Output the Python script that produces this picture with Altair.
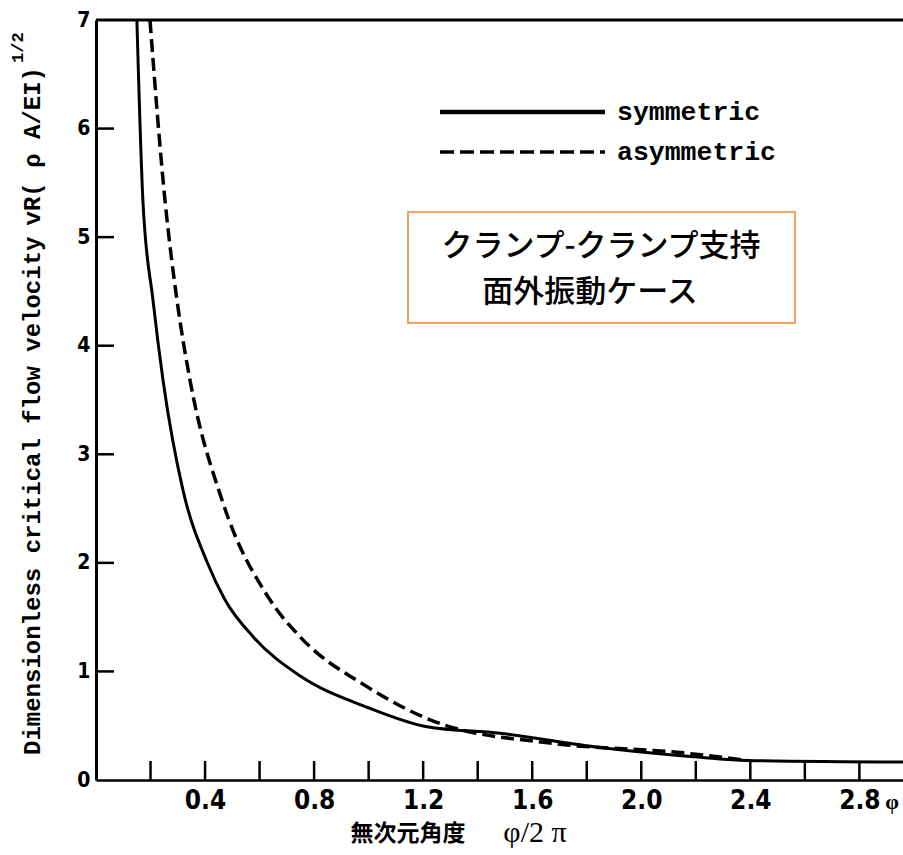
import altair as alt
import pandas as pd

# ---- data ----
sym_x = [0.150, 0.172, 0.209, 0.246, 0.319, 0.407, 0.473, 0.576, 0.748, 0.994, 1.214, 1.482, 1.849, 2.216, 2.39, 2.96]
sym_y = [7.0, 5.34, 4.42, 3.68, 2.67, 2.01, 1.66, 1.32, 0.96, 0.67, 0.49, 0.43, 0.30, 0.21, 0.18, 0.165]
asym_x = [0.198, 0.253, 0.297, 0.345, 0.462, 0.638, 0.748, 0.994, 1.262, 1.665, 2.153, 2.39]
asym_y = [7.0, 5.34, 4.42, 3.68, 2.58, 1.66, 1.32, 0.86, 0.52, 0.34, 0.25, 0.18]
series_names = ["symmetric", "asymmetric"]

x_tick_vals = [0.2, 0.4, 0.6, 0.8, 1.0, 1.2, 1.4, 1.6, 1.8, 2.0, 2.2, 2.4, 2.6, 2.8]
x_label_vals = [0.4, 0.8, 1.2, 1.6, 2.0, 2.4, 2.8]
y_tick_vals = [1, 2, 3, 4, 5, 6]
y_label_vals = [0, 1, 2, 3, 4, 5, 6, 7]

box_lines = ["クランプ-クランプ支持", "面外振動ケース"]
x_title_jp = "無次元角度"
x_title_sym = "φ/2 π"
y_title_main = "Dimensionless critical flow velocity"
y_title_tail = "vR( ρ A/EI)"
y_title_sup = "1/2"

W, H = 807, 760
XMAX = 2.96
xs = alt.Scale(domain=[0, XMAX], nice=False, zero=False)
ys = alt.Scale(domain=[0, 7], nice=False, zero=False)

NUM_FONT = "Liberation Sans Narrow, DejaVu Sans Condensed, Arial Narrow, sans-serif"
MONO = "Liberation Mono, DejaVu Sans Mono, monospace"
CJK = "Noto Sans CJK JP"

df_sym = pd.DataFrame({"x": sym_x, "y": sym_y})
df_asym = pd.DataFrame({"x": asym_x, "y": asym_y})
one = pd.DataFrame({"a": [0]})

base_x = alt.X("x:Q", scale=xs,
               axis=alt.Axis(values=x_label_vals, format=".1f", title="", grid=False,
                             ticks=False, tickSize=0, domainColor="black", domainWidth=2.5,
                             labelFont=NUM_FONT, labelFontWeight="bold", labelFontSize=26,
                             labelColor="black", labelPadding=7, labelFlush=False))
base_y = alt.Y("y:Q", scale=ys,
               axis=alt.Axis(values=y_label_vals, format="d", title="", grid=False,
                             ticks=False, tickSize=0, domainColor="black", domainWidth=3,
                             labelFont=NUM_FONT, labelFontWeight="bold", labelFontSize=21,
                             labelColor="black", labelPadding=6))

sym_line = alt.Chart(df_sym).mark_line(color="black", strokeWidth=3, interpolate="monotone").encode(
    x=base_x, y=base_y)
asym_line = alt.Chart(df_asym).mark_line(color="black", strokeWidth=3.5, strokeDash=[13, 6],
                                         interpolate="monotone").encode(
    x=alt.X("x:Q", scale=xs), y=alt.Y("y:Q", scale=ys))

xticks = alt.Chart(pd.DataFrame({"x": x_tick_vals})).mark_rule(color="black", strokeWidth=2.5).encode(
    x=alt.X("x:Q", scale=xs), y=alt.value(H), y2=alt.value(H - 19))
yticks = alt.Chart(pd.DataFrame({"y": y_tick_vals})).mark_rule(color="black", strokeWidth=2.5).encode(
    y=alt.Y("y:Q", scale=ys), x=alt.value(0), x2=alt.value(18))
topline = alt.Chart(pd.DataFrame({"y": [7]})).mark_rule(color="black", strokeWidth=3).encode(
    y=alt.Y("y:Q", scale=ys), x=alt.value(0), x2=alt.value(W))

# legend
leg_solid = alt.Chart(one).mark_rule(color="black", strokeWidth=4.5).encode(
    x=alt.value(344), x2=alt.value(509), y=alt.value(92))
leg_dash = alt.Chart(one).mark_rule(color="black", strokeWidth=3.5, strokeDash=[14, 6]).encode(
    x=alt.value(344), x2=alt.value(509), y=alt.value(132))
leg_t1 = alt.Chart(one).mark_text(font=MONO, fontWeight="bold", fontSize=26.5, align="left",
                                  baseline="alphabetic", color="black", text=series_names[0]).encode(
    x=alt.value(521), y=alt.value(100))
leg_t2 = alt.Chart(one).mark_text(font=MONO, fontWeight="bold", fontSize=26.5, align="left",
                                  baseline="alphabetic", color="black", text=series_names[1]).encode(
    x=alt.value(521), y=alt.value(140))

# orange box
box = alt.Chart(one).mark_rect(fill="white", stroke="#f0883c", strokeWidth=1.6).encode(
    x=alt.value(312), x2=alt.value(699), y=alt.value(192), y2=alt.value(303))
box_t1 = alt.Chart(one).mark_text(font=CJK, fontSize=31, fontWeight=500, align="center", baseline="middle",
                                  color="black", text=box_lines[0]).encode(
    x=alt.value(505), y=alt.value(227))
box_t2 = alt.Chart(one).mark_text(font=CJK, fontSize=31, fontWeight=500, align="center", baseline="middle",
                                  color="black", text=box_lines[1]).encode(
    x=alt.value(494), y=alt.value(273))

# x-axis title
xt1 = alt.Chart(one).mark_text(font=CJK, fontWeight="bold", fontSize=23, align="center",
                               baseline="middle", color="black", text=x_title_jp).encode(
    x=alt.value(312), y=alt.value(814))
xt2 = alt.Chart(one).mark_text(font="Liberation Serif", fontSize=30, align="center",
                               baseline="middle", color="black", text=x_title_sym).encode(
    x=alt.value(439), y=alt.value(813))
xt3 = alt.Chart(one).mark_text(font="Liberation Serif", fontWeight="bold", fontSize=22, align="center",
                               baseline="middle", color="black", text="φ").encode(
    x=alt.value(796), y=alt.value(782))

# y-axis title
yt1 = alt.Chart(one).mark_text(font=MONO, fontWeight="bold", fontSize=24, angle=270, align="left",
                               baseline="alphabetic", color="black", text=y_title_main).encode(
    x=alt.value(-56), y=alt.value(735))
yt2 = alt.Chart(one).mark_text(font=MONO, fontWeight="bold", fontSize=24, angle=270, align="right",
                               baseline="alphabetic", color="black", text=y_title_tail).encode(
    x=alt.value(-56), y=alt.value(47))
yt3 = alt.Chart(one).mark_text(font=MONO, fontWeight="bold", fontSize=17, angle=270, align="left",
                               baseline="alphabetic", color="black", text=y_title_sup).encode(
    x=alt.value(-73), y=alt.value(43))

chart = alt.layer(
    sym_line, asym_line, xticks, yticks, topline,
    leg_solid, leg_dash, leg_t1, leg_t2,
    box, box_t1, box_t2,
    xt1, xt2, xt3, yt1, yt2, yt3,
).properties(
    width=W, height=H,
    padding={"left": 96, "top": 20, "right": 0, "bottom": 75},
    autosize=alt.AutoSizeParams(type="none"),
    background="white",
).configure_view(strokeWidth=0)

chart.save("out.html", embed_options={"renderer": "svg", "actions": False})
